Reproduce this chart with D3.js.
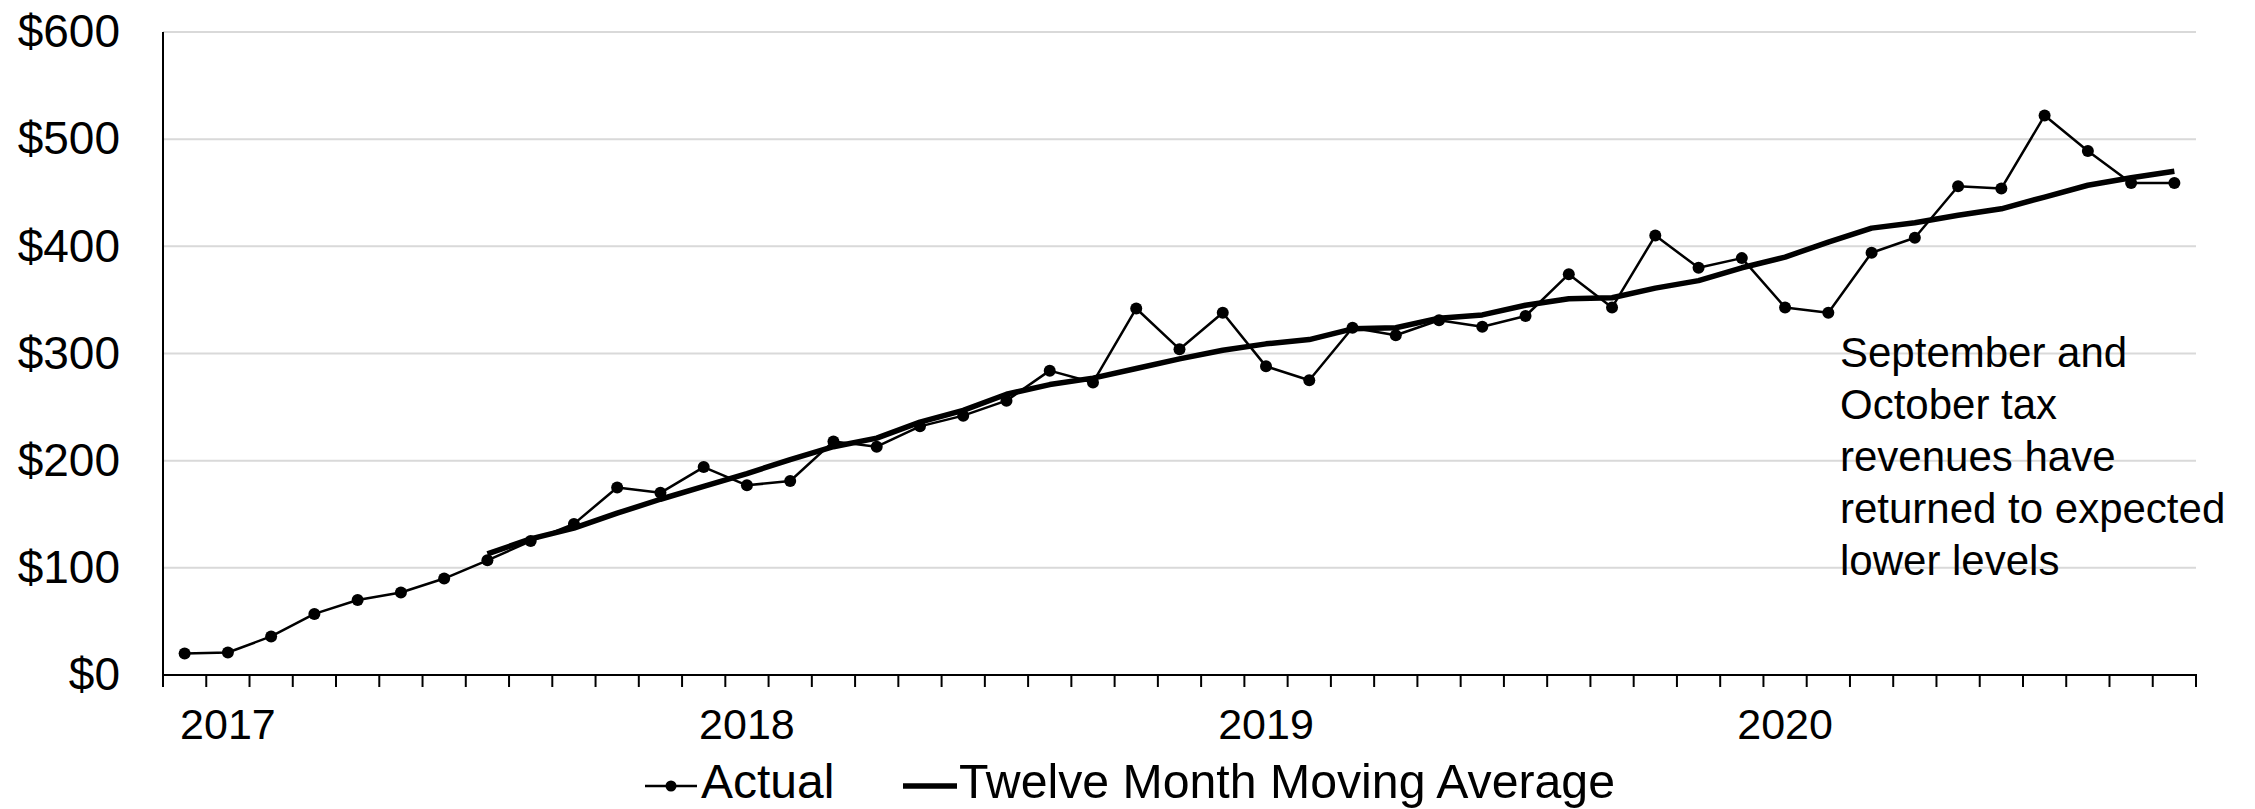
<!DOCTYPE html>
<html>
<head>
<meta charset="utf-8">
<script src="https://cdn.jsdelivr.net/npm/d3@7"></script>
<style>
  html, body { margin: 0; padding: 0; background: #fff; }
  svg { display: block; font-family: "Liberation Sans", Arial, sans-serif; }
</style>
</head>
<body>
<svg id="chart" width="2255" height="809"></svg>
<script>
// ---- Data ----
const months = [
  "2016-12",
  "2017-01","2017-02","2017-03","2017-04","2017-05","2017-06","2017-07","2017-08","2017-09","2017-10","2017-11","2017-12",
  "2018-01","2018-02","2018-03","2018-04","2018-05","2018-06","2018-07","2018-08","2018-09","2018-10","2018-11","2018-12",
  "2019-01","2019-02","2019-03","2019-04","2019-05","2019-06","2019-07","2019-08","2019-09","2019-10","2019-11","2019-12",
  "2020-01","2020-02","2020-03","2020-04","2020-05","2020-06","2020-07","2020-08","2020-09","2020-10"
];
const actual = [20, 21, 36, 57, 70, 77, 90, 107, 125, 141, 175, 170, 194, 177, 181, 218, 213, 232, 242, 256,
  284, 273, 342, 304, 338, 288, 275, 324, 317, 331, 325, 335, 374, 343, 410, 380, 389, 343, 338, 394,
  408, 456, 454, 522, 489, 459, 459];
// twelve-month moving average begins at 2017-07
const maStart = "2017-07";
const movingAvg = [113, 127, 137, 151, 164, 176, 188, 201, 213, 221, 236, 247, 262, 271, 277, 286, 295, 303,
  309, 313, 323, 324, 333, 336, 345, 351, 352, 361, 368, 380, 390, 404, 417, 422, 429, 435, 446, 457, 464, 470];
const yTicks = [0, 100, 200, 300, 400, 500, 600];
const yearLabels = [
  {month: "2017-01", label: "2017"},
  {month: "2018-01", label: "2018"},
  {month: "2019-01", label: "2019"},
  {month: "2020-01", label: "2020"}
];
const seriesNames = ["Actual", "Twelve Month Moving Average"];
const annotationLines = ["September and", "October tax", "revenues have", "returned to expected", "lower levels"];

// ---- Layout ----
(function () {
const svg = d3.select("#chart");
const pL = 163, pR = 2196, pT = 32, pB = 675;

const x = d3.scaleBand().domain(months).range([pL, pR]).paddingInner(0).paddingOuter(0);
const bw = x.bandwidth();
const cx = m => x(m) + bw / 2;
const y = d3.scaleLinear().domain([0, 600]).range([pB, pT]);

// gridlines
svg.append("g").selectAll("line").data(yTicks.filter(d => d > 0)).join("line")
  .attr("x1", pL).attr("x2", pR)
  .attr("y1", d => y(d)).attr("y2", d => y(d))
  .attr("stroke", "#d9d9d9").attr("stroke-width", 2);

// y axis labels
const yAxis = d3.axisLeft(y).tickValues(yTicks).tickFormat(d => "$" + d).tickSize(0).tickPadding(43);
const gy = svg.append("g").attr("transform", `translate(${pL},0)`).call(yAxis);
gy.select(".domain").remove();
gy.selectAll("text").attr("font-size", 46).attr("fill", "#000")
  .attr("font-family", '"Liberation Sans", Arial, sans-serif');

// axis lines
svg.append("line").attr("x1", pL).attr("x2", pL).attr("y1", pT).attr("y2", pB)
  .attr("stroke", "#000").attr("stroke-width", 2);
svg.append("line").attr("x1", pL - 1).attr("x2", pR + 1).attr("y1", pB).attr("y2", pB)
  .attr("stroke", "#000").attr("stroke-width", 2);

// x ticks at category boundaries
const boundaries = months.map(m => x(m)).concat([x(months[months.length - 1]) + bw]);
svg.append("g").selectAll("line").data(boundaries).join("line")
  .attr("x1", d => d).attr("x2", d => d)
  .attr("y1", pB).attr("y2", pB + 12)
  .attr("stroke", "#000").attr("stroke-width", 2);

// year labels
svg.append("g").selectAll("text").data(yearLabels).join("text")
  .attr("x", d => cx(d.month)).attr("y", 739)
  .attr("text-anchor", "middle").attr("font-size", 43).attr("fill", "#000")
  .text(d => d.label);

// actual line
const actualData = months.map((m, i) => ({m, v: actual[i]}));
const line = d3.line().x(d => cx(d.m)).y(d => y(d.v));
svg.append("path").datum(actualData).attr("d", line)
  .attr("fill", "none").attr("stroke", "#000").attr("stroke-width", 2.5).attr("stroke-linejoin", "round");

// moving average
const s = months.indexOf(maStart);
const maData = movingAvg.map((v, i) => ({m: months[s + i], v}));
svg.append("path").datum(maData).attr("d", line)
  .attr("fill", "none").attr("stroke", "#000").attr("stroke-width", 5.5).attr("stroke-linejoin", "round");

// markers
svg.append("g").selectAll("circle").data(actualData).join("circle")
  .attr("cx", d => cx(d.m)).attr("cy", d => y(d.v)).attr("r", 6).attr("fill", "#000");

// annotation
svg.append("text").attr("x", 1840).attr("y", 367).attr("font-size", 42).attr("fill", "#000")
  .selectAll("tspan").data(annotationLines).join("tspan")
  .attr("x", 1840).attr("dy", (d, i) => i === 0 ? 0 : 52).text(d => d);

// legend
const lg = svg.append("g");
const ly = 786;
lg.append("line").attr("x1", 645).attr("x2", 697).attr("y1", ly).attr("y2", ly)
  .attr("stroke", "#000").attr("stroke-width", 2.5);
lg.append("circle").attr("cx", 671).attr("cy", ly).attr("r", 5.5).attr("fill", "#000");
lg.append("text").attr("x", 701).attr("y", 798).attr("font-size", 48).attr("fill", "#000").text(seriesNames[0]);
lg.append("line").attr("x1", 903).attr("x2", 957).attr("y1", ly).attr("y2", ly)
  .attr("stroke", "#000").attr("stroke-width", 5.5);
lg.append("text").attr("x", 959).attr("y", 798).attr("font-size", 48).attr("fill", "#000")
  .attr("textLength", 656).attr("lengthAdjust", "spacingAndGlyphs").text(seriesNames[1]);
})();
</script>
</body>
</html>
